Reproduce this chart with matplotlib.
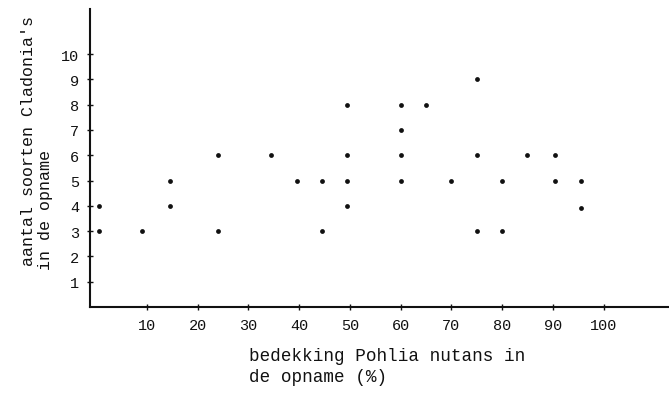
import matplotlib
matplotlib.use("Agg")
import matplotlib.pyplot as plt

# data
cover_pct = [0.5, 0.5, 9, 14.5, 14.5, 24, 24,
             34.5, 39.5, 44.5, 44.5, 49.5, 49.5, 49.5, 49.5,
             60, 60, 60, 60, 65, 70, 75, 75, 75, 80, 80,
             85, 90.5, 90.5, 95.5, 95.5]
n_species = [4, 3, 3, 5, 4, 6, 3,
             6, 5, 5, 3, 8, 6, 5, 4,
             8, 7, 6, 5, 8, 5, 9, 6, 3, 5, 3,
             6, 6, 5, 5, 3.9]
x_ticks = [10, 20, 30, 40, 50, 60, 70, 80, 90, 100]
y_ticks = [1, 2, 3, 4, 5, 6, 7, 8, 9, 10]
y_label_lines = ["aantal soorten Cladonia's", "in de opname"]
x_label_lines = ["bedekking Pohlia nutans in", "de opname (%)"]

W, H = 669, 414
fig = plt.figure(figsize=(W / 100, H / 100), dpi=100)
fig.patch.set_facecolor("white")
mono = ["Liberation Mono", "DejaVu Sans Mono"]
ink = "#111111"

ax = fig.add_axes([90 / W, 1 - 308 / H, 1 - 90 / W, (308 - 10) / H])
ax.scatter(cover_pct, n_species, s=12, color=ink, linewidths=0, zorder=3)

ax.set_xlim(-1.24, 112.9)
ax.set_ylim(0, 11.78)
ax.set_xticks(x_ticks)
ax.set_yticks(y_ticks)
ax.set_xticklabels([str(v) for v in x_ticks], fontfamily=mono, fontsize=11, color=ink)
ax.set_yticklabels([str(v) for v in y_ticks], fontfamily=mono, fontsize=11, color=ink)
for s in ["top", "right"]:
    ax.spines[s].set_visible(False)
for s in ["left", "bottom"]:
    ax.spines[s].set_linewidth(1.5)
    ax.spines[s].set_color(ink)
ax.tick_params(axis="both", direction="inout", length=4, width=1, color=ink)
ax.tick_params(axis="y", pad=6)
ax.tick_params(axis="x", pad=6)

# y label (two rotated lines)
fig.text(33 / W, 1 - 266 / H, y_label_lines[0], rotation=90, rotation_mode="anchor",
         ha="left", va="baseline", fontfamily=mono, fontsize=12, color=ink)
fig.text(50 / W, 1 - 270 / H, y_label_lines[1], rotation=90, rotation_mode="anchor",
         ha="left", va="baseline", fontfamily=mono, fontsize=12, color=ink)

# x label (two lines)
fig.text(249 / W, 1 - 361 / H, x_label_lines[0], ha="left", va="baseline",
         fontfamily=mono, fontsize=12.7, color=ink)
fig.text(249 / W, 1 - 382 / H, x_label_lines[1], ha="left", va="baseline",
         fontfamily=mono, fontsize=12.7, color=ink)

fig.savefig("out.png", dpi=100, facecolor="white")
